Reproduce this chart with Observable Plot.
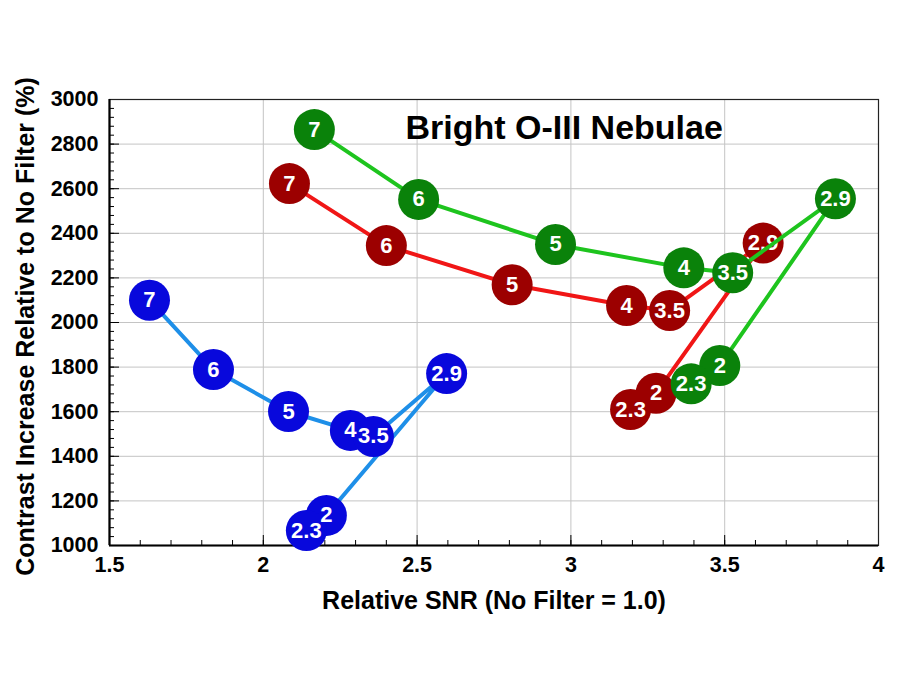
<!DOCTYPE html>
<html>
<head>
<meta charset="utf-8">
<script src="https://cdn.jsdelivr.net/npm/d3@7"></script>
<script src="https://cdn.jsdelivr.net/npm/@observablehq/plot@0.6"></script>
<style>
  html, body { margin: 0; padding: 0; background: #fff; }
  #chart svg { display: block; }
</style>
</head>
<body>
<div id="chart"></div>
<script>
// ---- data ----
const pointLabels = ["7", "6", "5", "4", "3.5", "2.9", "2", "2.3"];
const blueX  = [1.63, 1.838, 2.082, 2.283, 2.358, 2.596, 2.205, 2.14];
const blueY  = [2100, 1789, 1601, 1516, 1489, 1771, 1135, 1067];
const redX   = [2.085, 2.40, 2.809, 3.181, 3.321, 3.625, 3.277, 3.194];
const redY   = [2623, 2345, 2169, 2076, 2054, 2356, 1683, 1610];
const greenX = [2.166, 2.505, 2.95, 3.367, 3.526, 3.86, 3.484, 3.391];
const greenY = [2865, 2552, 2350, 2245, 2223, 2555, 1807, 1725];

const xTicks = [1.5, 2, 2.5, 3, 3.5, 4];
const yTicks = [1000, 1200, 1400, 1600, 1800, 2000, 2200, 2400, 2600, 2800, 3000];
const xMinor = d3.range(15, 41).map(d => d / 10);
const yMinor = d3.range(1000, 3001, 40);

const titleText = "Bright O-III Nebulae";
const xTitle = "Relative SNR (No Filter = 1.0)";
const yTitle = "Contrast Increase Relative to No Filter (%)";

const seriesDefs = [
  {name: "blue",  xs: blueX,  ys: blueY,  line: "#1e8fe8", fill: "#0808dc"},
  {name: "red",   xs: redX,   ys: redY,   line: "#f01616", fill: "#9c0000"},
  {name: "green", xs: greenX, ys: greenY, line: "#1ec41e", fill: "#0a820a"}
];

const font = "'Liberation Sans', Arial, Helvetica, sans-serif";
const W = 900, H = 695;
const mL = 109, mR = 22, mT = 99, mB = 150;
const plotW = W - mL - mR, plotH = H - mT - mB;

const marks = [
  Plot.gridX(xTicks, {stroke: "#c4c4c4", strokeOpacity: 1, strokeWidth: 1}),
  Plot.gridY(yTicks, {stroke: "#c4c4c4", strokeOpacity: 1, strokeWidth: 1}),
  // minor / major ticks inside the frame
  Plot.gridX(xMinor, {stroke: "#000", strokeOpacity: 1, strokeWidth: 1, insetTop: plotH - 5}),
  Plot.gridX(xTicks, {stroke: "#000", strokeOpacity: 1, strokeWidth: 1, insetTop: plotH - 10}),
  Plot.gridY(yMinor, {stroke: "#000", strokeOpacity: 1, strokeWidth: 1, insetRight: plotW - 5}),
  Plot.gridY(yTicks, {stroke: "#000", strokeOpacity: 1, strokeWidth: 1, insetRight: plotW - 10}),
  Plot.frame({stroke: "#222", strokeWidth: 1.2}),
  Plot.ruleX([xTicks[0]], {stroke: "#000", strokeWidth: 2.2}),
  Plot.ruleY([yTicks[0]], {stroke: "#000", strokeWidth: 2.2}),
  Plot.axisX(xTicks, {tickSize: 0, tickPadding: 11, fontSize: 21.5, fontWeight: "bold", fill: "#000", label: null, tickFormat: d => String(d)}),
  Plot.axisY(yTicks, {tickSize: 0, tickPadding: 11, fontSize: 21.5, fontWeight: "bold", fill: "#000", label: null, tickFormat: d => String(d)}),
  Plot.text([titleText], {text: d => d, frameAnchor: "top-left", dx: 296, dy: 29, textAnchor: "start", lineAnchor: "middle", fontSize: 34, fontWeight: "bold", fill: "#000"}),
  Plot.text([xTitle], {text: d => d, frameAnchor: "bottom", dy: 55, textAnchor: "middle", lineAnchor: "middle", fontSize: 25, fontWeight: "bold", fill: "#000"}),
  Plot.text([yTitle], {text: d => d, frameAnchor: "left", dx: -84, dy: 4, rotate: -90, textAnchor: "middle", lineAnchor: "middle", fontSize: 25, fontWeight: "bold", fill: "#000"})
];

for (const s of seriesDefs) {
  const rows = pointLabels.map((lab, i) => ({label: lab, x: s.xs[i], y: s.ys[i]}));
  marks.push(
    Plot.line(rows, {x: "x", y: "y", stroke: s.line, strokeWidth: 4, curve: "linear"}),
    Plot.dot(rows, {x: "x", y: "y", r: 20.5, fill: s.fill, stroke: "none"}),
    Plot.text(rows, {x: "x", y: "y", text: "label", fill: "#fff", fontSize: 22, fontWeight: "bold"})
  );
}

const chart = Plot.plot({
  width: W,
  height: H,
  marginLeft: mL,
  marginRight: mR,
  marginTop: mT,
  marginBottom: mB,
  style: {fontFamily: font, background: "#fff", color: "#000"},
  x: {domain: [1.5, 4], axis: null},
  y: {domain: [1000, 3000], axis: null},
  marks
});
document.getElementById("chart").appendChild(chart);
</script>
</body>
</html>
